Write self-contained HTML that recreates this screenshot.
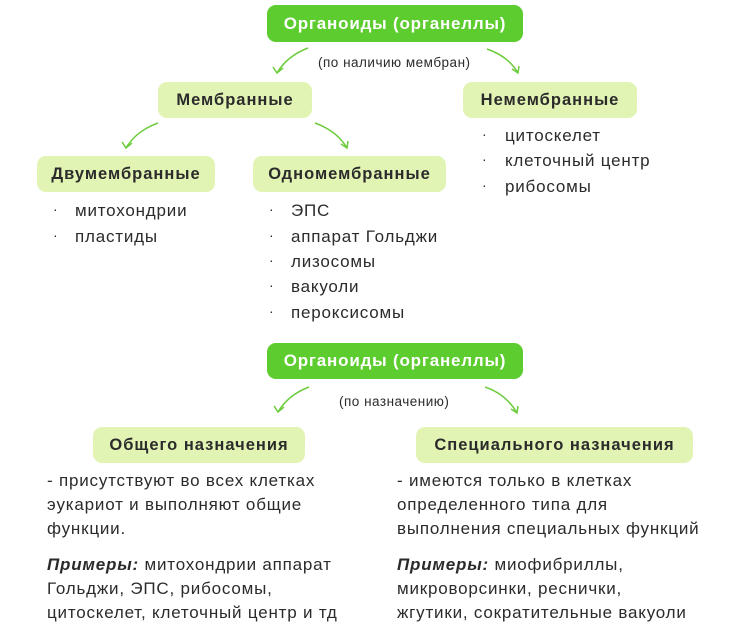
<!DOCTYPE html>
<html><head><meta charset="utf-8"><style>
body{margin:0;width:746px;height:641px;background:#fff;position:relative;font-family:"Liberation Sans","Noto Sans CJK SC",sans-serif;color:#2b2b2b;overflow:hidden}
.b{position:absolute;border-radius:9px;display:flex;align-items:center;justify-content:center;font-weight:bold;font-size:16.5px;letter-spacing:1px}
.g{background:#5ccc2e;color:#fff;font-size:17px;letter-spacing:0.8px}
.l{background:#e2f4b4;color:#2b2b2b}
.t{position:absolute;font-size:17px;letter-spacing:0.8px;white-space:nowrap;line-height:20px}
.s{position:absolute;font-size:13.5px;letter-spacing:0.5px;white-space:nowrap}
.d{position:absolute;font-size:14px}
.p{position:absolute;font-size:17px;letter-spacing:0.8px;line-height:24px;white-space:nowrap}
</style></head><body>
<div class="b g" style="left:267px;top:5px;width:256px;height:37px">Органоиды (органеллы)</div>
<div class="s" style="left:318px;top:55px">(по наличию мембран)</div>
<div class="b l" style="left:158px;top:82px;width:154px;height:36px">Мембранные</div>
<div class="b l" style="left:463px;top:82px;width:174px;height:36px">Немембранные</div>
<div class="b l" style="left:37px;top:156px;width:178px;height:36px">Двумембранные</div>
<div class="b l" style="left:253px;top:156px;width:193px;height:36px">Одномембранные</div>

<div class="d" style="left:53px;top:201px">·</div><div class="t" style="left:75px;top:201px">митохондрии</div>
<div class="d" style="left:53px;top:227px">·</div><div class="t" style="left:75px;top:227px">пластиды</div>

<div class="d" style="left:269px;top:201px">·</div><div class="t" style="left:291px;top:201px">ЭПС</div>
<div class="d" style="left:269px;top:227px">·</div><div class="t" style="left:291px;top:227px">аппарат Гольджи</div>
<div class="d" style="left:269px;top:252px">·</div><div class="t" style="left:291px;top:252px">лизосомы</div>
<div class="d" style="left:269px;top:277px">·</div><div class="t" style="left:291px;top:277px">вакуоли</div>
<div class="d" style="left:269px;top:303px">·</div><div class="t" style="left:291px;top:303px">пероксисомы</div>

<div class="d" style="left:482px;top:126px">·</div><div class="t" style="left:505px;top:126px">цитоскелет</div>
<div class="d" style="left:482px;top:151px">·</div><div class="t" style="left:505px;top:151px">клеточный центр</div>
<div class="d" style="left:482px;top:177px">·</div><div class="t" style="left:505px;top:177px">рибосомы</div>

<div class="b g" style="left:267px;top:343px;width:256px;height:36px">Органоиды (органеллы)</div>
<div class="s" style="left:339px;top:394px">(по назначению)</div>
<div class="b l" style="left:93px;top:427px;width:212px;height:36px">Общего назначения</div>
<div class="b l" style="left:416px;top:427px;width:277px;height:36px">Специального назначения</div>

<div class="p" style="left:47px;top:469px">- присутствуют во всех клетках<br>эукариот и выполняют общие<br>функции.</div>
<div class="p" style="left:47px;top:553px"><b><i>Примеры:</i></b> митохондрии аппарат<br>Гольджи, ЭПС, рибосомы,<br>цитоскелет, клеточный центр и тд</div>
<div class="p" style="left:397px;top:469px">- имеются только в клетках<br>определенного типа для<br>выполнения специальных функций</div>
<div class="p" style="left:397px;top:553px"><b><i>Примеры:</i></b> миофибриллы,<br>микроворсинки, реснички,<br>жгутики, сократительные вакуоли</div>

<svg width="746" height="641" style="position:absolute;left:0;top:0" fill="none" stroke="#6ccc3c" stroke-width="1.5">
<g>
<path d="M308 48 Q287 56 277 73"/><path d="M273 67 L277 73 L283 68"/>
<path d="M487 49 Q508 56 518 73"/><path d="M512 69 L518 73 L519 66"/>
<path d="M158 123 Q136 131 126 148"/><path d="M122 142 L126 148 L132 143"/>
<path d="M315 123 Q337 131 347 148"/><path d="M341 144 L347 148 L348 141"/>
<path d="M309 387 Q288 395 278 412"/><path d="M274 406 L278 412 L284 407"/>
<path d="M485 387 Q506 394 517 413"/><path d="M511 409 L517 413 L518 406"/>
</g></svg>
</body></html>
